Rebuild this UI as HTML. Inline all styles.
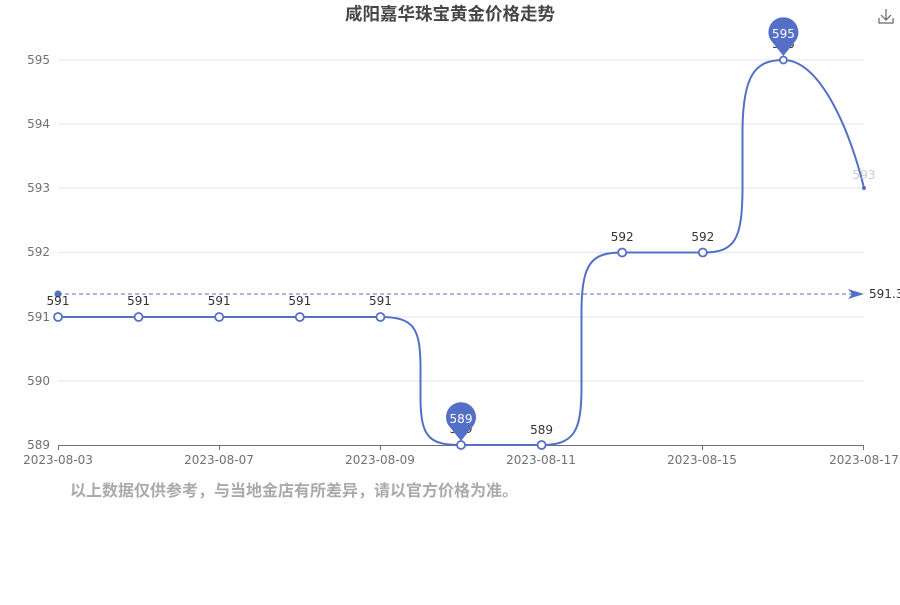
<!DOCTYPE html>
<html><head><meta charset="utf-8"><style>
body{margin:0;background:#fff;width:900px;height:600px;overflow:hidden}
text{font-family:"DejaVu Sans","Noto Sans CJK SC",sans-serif}
</style></head><body>
<svg width="900" height="600" xmlns="http://www.w3.org/2000/svg">
<text x="450" y="20" text-anchor="middle" font-size="17.5" font-weight="bold" fill="#464646" style="font-family:'Liberation Sans','Noto Sans CJK SC',sans-serif">咸阳嘉华珠宝黄金价格走势</text>
<g stroke="#666" stroke-width="1.2" fill="none"><path d="M886 9v11M881 15l5 5 5-5"/><path d="M879 18v5h14v-5"/></g>
<g stroke="#e0e6f1" stroke-width="1">
<line x1="58" x2="864" y1="60" y2="60"/><line x1="58" x2="864" y1="124" y2="124"/><line x1="58" x2="864" y1="188" y2="188"/><line x1="58" x2="864" y1="252.5" y2="252.5"/><line x1="58" x2="864" y1="317" y2="317"/><line x1="58" x2="864" y1="381" y2="381"/>
</g>
<line x1="58" x2="864" y1="445.5" y2="445.5" stroke="#6e7079"/>
<g stroke="#6e7079"><line x1="58.5" x2="58.5" y1="445" y2="450"/><line x1="219.5" x2="219.5" y1="445" y2="450"/><line x1="380.5" x2="380.5" y1="445" y2="450"/><line x1="541.5" x2="541.5" y1="445" y2="450"/><line x1="702.5" x2="702.5" y1="445" y2="450"/><line x1="863.5" x2="863.5" y1="445" y2="450"/></g>
<g font-size="12" fill="#6e7079" text-anchor="end">
<text x="50" y="64">595</text><text x="50" y="128">594</text><text x="50" y="192">593</text><text x="50" y="256">592</text><text x="50" y="321">591</text><text x="50" y="385">590</text><text x="50" y="449">589</text></g>
<g font-size="12" fill="#6e7079" text-anchor="middle">
<text x="58" y="464">2023-08-03</text><text x="219" y="464">2023-08-07</text><text x="380" y="464">2023-08-09</text><text x="541" y="464">2023-08-11</text><text x="702" y="464">2023-08-15</text><text x="864" y="464">2023-08-17</text></g>
<line x1="58" x2="852" y1="294" y2="294" stroke="#5470c6" stroke-dasharray="4,3"/>
<circle cx="58" cy="294" r="3.5" fill="#5470c6"/>
<path d="M848 289l16 5-16 5 4-5z" fill="#5470c6"/>
<text x="869" y="298" font-size="12" fill="#333">591.36</text>
<path d="M58 317H380.4C413 317 420 327 420.5 365V400C421 438 430 445 461 445H541.6C575 445 581 430 581.5 390V310C582 262 592 252.5 622.2 252.5H702.8C735 252.5 742 240 742.5 190V130C743 75 755 60 783.4 60C820 60 850 130 864 188" fill="none" stroke="#5470c6" stroke-width="2"/>
<g fill="#fff" stroke="#5470c6" stroke-width="1.8">
<circle cx="58" cy="317" r="4"/><circle cx="138.6" cy="317" r="4"/><circle cx="219.2" cy="317" r="4"/><circle cx="299.8" cy="317" r="4"/><circle cx="380.4" cy="317" r="4"/><circle cx="461" cy="445" r="4"/><circle cx="541.6" cy="445" r="4"/><circle cx="622.2" cy="252.5" r="4"/><circle cx="702.8" cy="252.5" r="4"/><circle cx="783.4" cy="60" r="3.5"/></g>
<circle cx="864" cy="188" r="2" fill="#5470c6"/>
<g font-size="12" fill="#333" text-anchor="middle">
<text x="58" y="305">591</text><text x="138.6" y="305">591</text><text x="219.2" y="305">591</text><text x="299.8" y="305">591</text><text x="380.4" y="305">591</text><text x="461" y="433">589</text><text x="541.6" y="434">589</text><text x="622.2" y="241">592</text><text x="702.8" y="241">592</text><text x="783.4" y="48">595</text><text x="864" y="179" fill="#ccc">593</text></g>
<path d="M783.4 56L773 43A15 15 0 1 1 793.8 43Z" fill="#5470c6"/>
<text x="783.4" y="38" font-size="12" fill="#fff" text-anchor="middle">595</text>
<path d="M461 441L450.6 428A15 15 0 1 1 471.4 428Z" fill="#5470c6"/>
<text x="461" y="423" font-size="12" fill="#fff" text-anchor="middle">589</text>
<text x="70" y="496" font-size="16" font-weight="bold" fill="#aaa" style="font-family:'Liberation Sans','Noto Sans CJK SC',sans-serif">以上数据仅供参考，与当地金店有所差异，请以官方价格为准。</text>
</svg>
</body></html>
